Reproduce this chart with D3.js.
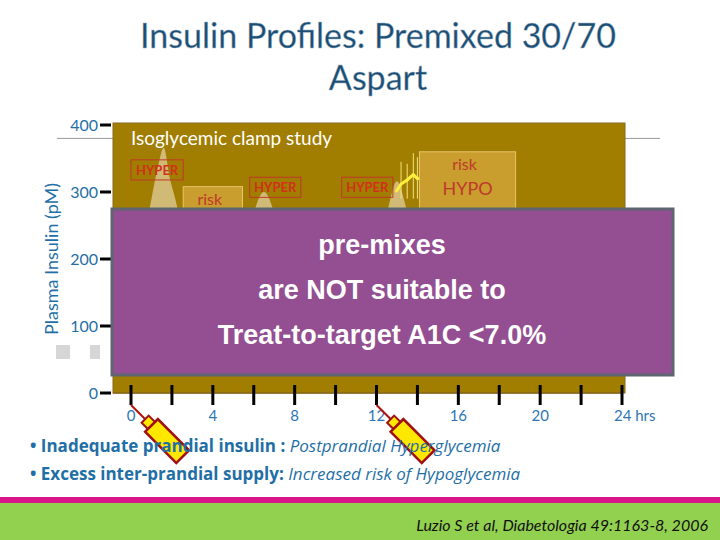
<!DOCTYPE html>
<html><head><meta charset="utf-8">
<script src="https://cdn.jsdelivr.net/npm/d3@7"></script>
<style>body{margin:0;background:#fff}svg{display:block}</style>
</head><body>
<svg id="chart" width="720" height="540"></svg>
<script>
// tick values
const hourTicks = [0, 2, 4, 6, 8, 10, 12, 14, 16, 18, 20, 22, 24];
const hourLabels = [0, 4, 8, 12, 16, 20];
const insulinTicks = [0, 100, 200, 300, 400];
// insulin peaks (hour, pM) - only upper parts visible above the overlay
const peakBreakfast = [[0.7, 240], [1.0, 290], [1.3, 335], [1.6, 366], [1.9, 320], [2.2, 285], [2.5, 240]];
const peakLunch = [[5.8, 240], [6.1, 278], [6.5, 300], [6.9, 278], [7.2, 240]];
const peakDinner = [[12.3, 240], [12.6, 280], [13.0, 316], [13.4, 282], [13.7, 240]];
const yellowTrace = [[12.95, 300], [13.2, 312], [13.5, 318], [13.8, 326], [14.0, 320], [14.3, 322], [14.6, 305], [14.9, 285], [15.1, 270]];
const spikes = [[13.2, 345], [13.5, 342], [13.8, 358], [14.0, 352], [14.3, 335], [14.6, 300], [14.9, 292]];
// hyper boxes [h0, h1, pMtop, pMbottom]; risk boxes add label lines
const hyperBoxes = [[0, 2.55, 348, 318], [5.8, 8.3, 322, 292], [10.3, 12.8, 322, 292]];
const riskBoxes = [[2.55, 5.45, 308, 270, ["risk"]], [14.1, 18.8, 360, 260, ["risk", "HYPO"]]];

const svg = d3.select("#chart");
const x = d3.scaleLinear().domain([0, 24]).range([131, 622]);
const y = d3.scaleLinear().domain([0, 400]).range([393, 125]);
const blue = "#1f6fa6";

// title
svg.append("g").selectAll("text").data(["Insulin Profiles: Premixed 30/70", "Aspart"]).join("text")
  .attr("x", 378).attr("y", (d, i) => 48 + i * 42).attr("text-anchor", "middle")
  .attr("font-family", "Lato, 'Open Sans', sans-serif").attr("font-size", 34)
  .attr("fill", "#1a4e74").attr("stroke", "#9fb3c4").attr("stroke-width", 0.4).text(d => d);

// background grid line
svg.append("line").attr("x1", 57).attr("x2", 660).attr("y1", y(380)).attr("y2", y(380))
  .attr("stroke", "#999").attr("stroke-width", 1);

// olive panel
svg.append("rect").attr("x", 113).attr("y", 123).attr("width", 512).attr("height", y(0) - 123)
  .attr("fill", "#a17d00").attr("stroke", "#8a6a1a");

// peaks
const area = d3.area().x(d => x(d[0])).y0(y(240)).y1(d => y(d[1])).curve(d3.curveMonotoneX);
for (const p of [peakBreakfast, peakLunch, peakDinner]) {
  svg.append("path").datum(p).attr("d", area).attr("fill", "#d9c48a").attr("opacity", 0.85);
}
svg.append("g").selectAll("line").data(spikes).join("line")
  .attr("x1", d => x(d[0])).attr("x2", d => x(d[0])).attr("y1", d => y(d[1])).attr("y2", y(290))
  .attr("stroke", "#f2e27a").attr("stroke-width", 1);
svg.append("path").datum(yellowTrace)
  .attr("d", d3.line().x(d => x(d[0])).y(d => y(d[1])))
  .attr("fill", "none").attr("stroke", "#ffef3a").attr("stroke-width", 3);

// risk boxes
riskBoxes.forEach(b => {
  svg.append("rect").attr("x", x(b[0])).attr("y", y(b[2])).attr("width", x(b[1]) - x(b[0]))
    .attr("height", y(b[3]) - y(b[2])).attr("fill", "#c99d2e").attr("stroke", "#e5c66a");
  b[4].forEach((t, i) => svg.append("text").attr("x", (x(b[0]) + x(b[1])) / 2 + (i ? 0 : -3))
    .attr("y", y(b[2]) + 18 + i * 25).attr("text-anchor", "middle")
    .attr("font-family", "Lato, sans-serif").attr("font-size", i ? 18 : 16).attr("fill", "#c0392b").text(t));
});
// hyper boxes
hyperBoxes.forEach(b => {
  svg.append("rect").attr("x", x(b[0])).attr("y", y(b[2])).attr("width", x(b[1]) - x(b[0]))
    .attr("height", y(b[3]) - y(b[2])).attr("fill", "none").attr("stroke", "#c0392b");
  svg.append("text").attr("x", (x(b[0]) + x(b[1])) / 2).attr("y", y(b[2]) + 15)
    .attr("text-anchor", "middle").attr("font-family", "Lato, sans-serif").attr("font-weight", "bold")
    .attr("font-size", 13).attr("fill", "#d1301e").text("HYPER");
});

svg.append("text").attr("x", 131).attr("y", 145).attr("font-family", "Lato, sans-serif")
  .attr("font-size", 19).attr("fill", "#fff").text("Isoglycemic clamp study");

// y axis
svg.append("g").selectAll("line").data(insulinTicks).join("line")
  .attr("x1", 100).attr("x2", 111).attr("y1", d => y(d)).attr("y2", d => y(d))
  .attr("stroke", "#000").attr("stroke-width", 3);
svg.append("g").selectAll("text").data(insulinTicks).join("text")
  .attr("x", 98).attr("y", d => y(d) + 6).attr("text-anchor", "end")
  .attr("font-family", "Lato, sans-serif").attr("font-size", 16).attr("fill", blue).text(d => d);
svg.append("text").attr("transform", `translate(58,${y(200)}) rotate(-90)`).attr("text-anchor", "middle")
  .attr("font-family", "Lato, sans-serif").attr("font-size", 18).attr("fill", blue).text("Plasma Insulin (pM)");
svg.append("rect").attr("x", 56).attr("y", 345).attr("width", 14).attr("height", 14).attr("fill", "#d6d6d6");
svg.append("rect").attr("x", 90).attr("y", 345).attr("width", 10).attr("height", 14).attr("fill", "#d6d6d6");

// x axis
svg.append("line").attr("x1", 113).attr("x2", x(24)).attr("y1", y(0)).attr("y2", y(0))
  .attr("stroke", "#8a6a1a").attr("stroke-width", 1.5);
svg.append("g").selectAll("line").data(hourTicks).join("line")
  .attr("x1", d => x(d)).attr("x2", d => x(d)).attr("y1", y(0) - 8).attr("y2", y(0) + 12)
  .attr("stroke", "#000").attr("stroke-width", 3);
svg.append("g").selectAll("text").data(hourLabels).join("text")
  .attr("x", d => x(d)).attr("y", 421).attr("text-anchor", "middle")
  .attr("font-family", "Lato, sans-serif").attr("font-size", 15).attr("fill", "#2e75b6").text(d => d);
svg.append("text").attr("x", x(24) - 8).attr("y", 421).attr("font-family", "Lato, sans-serif")
  .attr("font-size", 15).attr("fill", "#2e75b6").text("24 hrs");

// purple overlay
svg.append("rect").attr("x", 112).attr("y", 209).attr("width", 561).attr("height", 166)
  .attr("fill", "#934f91").attr("stroke", "#5f6672").attr("stroke-width", 3);
svg.append("g").selectAll("text").data(["pre-mixes", "are NOT suitable to", "Treat-to-target A1C <7.0%"]).join("text")
  .attr("x", 382).attr("y", (d, i) => 254 + i * 45).attr("text-anchor", "middle")
  .attr("font-family", "'Liberation Sans', Arial, sans-serif").attr("font-size", 27).attr("font-weight", "bold")
  .attr("fill", "#fff").text(d => d);

// syringes at injections
[0, 12].forEach(h => {
  const g = svg.append("g").attr("transform", `translate(${x(h)},${y(0) + 12}) rotate(45)`);
  g.append("line").attr("x1", 0).attr("x2", 22).attr("y1", 0).attr("y2", 0).attr("stroke", "#b01010").attr("stroke-width", 2);
  g.append("rect").attr("x", 20).attr("y", -5).attr("width", 10).attr("height", 10).attr("fill", "#ffe800").attr("stroke", "#a01010").attr("stroke-width", 2);
  g.append("rect").attr("x", 29).attr("y", -9).attr("width", 44).attr("height", 18).attr("fill", "#ffe800").attr("stroke", "#a01010").attr("stroke-width", 2.5);
});

// bullets
const bullets = [["Inadequate prandial insulin : ", "Postprandial Hyperglycemia"],
                 ["Excess inter-prandial supply: ", "Increased risk of Hypoglycemia"]];
bullets.forEach((b, i) => {
  const t = svg.append("text").attr("x", 30).attr("y", 452 + i * 28)
    .attr("font-family", "'Liberation Sans Narrow', 'Open Sans', sans-serif").attr("font-size", 17).attr("fill", blue);
  t.append("tspan").attr("font-weight", "bold").text("• " + b[0]);
  t.append("tspan").attr("font-style", "italic").text(b[1]);
});

// footer
svg.append("rect").attr("x", 0).attr("y", 497).attr("width", 720).attr("height", 6).attr("fill", "#d8168a");
svg.append("rect").attr("x", 0).attr("y", 503).attr("width", 720).attr("height", 37).attr("fill", "#92d050");
svg.append("text").attr("x", 708).attr("y", 531).attr("text-anchor", "end")
  .attr("font-family", "Lato, sans-serif").attr("font-style", "italic").attr("font-size", 16)
  .attr("fill", "#111").text("Luzio S et al, Diabetologia 49:1163-8, 2006");
</script>
</body></html>
